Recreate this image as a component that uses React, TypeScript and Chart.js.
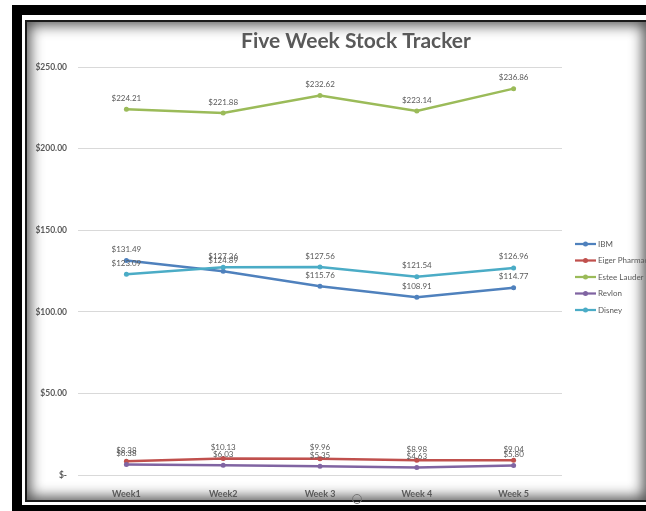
import React, { useEffect, useRef } from "react";
import { Chart, registerables } from "chart.js";

Chart.register(...registerables);

const weeks = ["Week1", "Week2", "Week 3", "Week 4", "Week 5"];
const seriesNames = ["IBM", "Eiger Pharmaceuticals", "Estee Lauder", "Revlon", "Disney"];
const seriesColors = ["#4F81BD", "#C0504D", "#9BBB59", "#8064A2", "#4BACC6"];
const ibm = [131.49, 124.89, 115.76, 108.91, 114.77];
const eiger = [8.38, 10.13, 9.96, 8.98, 9.04];
const estee = [224.21, 221.88, 232.62, 223.14, 236.86];
const revlon = [6.38, 6.03, 5.35, 4.63, 5.8];
const disney = [123.09, 127.36, 127.56, 121.54, 126.96];
const seriesValues = [ibm, eiger, estee, revlon, disney];
const yTicks = [0, 50, 100, 150, 200, 250];

const FONT = "Lato, 'Open Sans', sans-serif";
const TEXT = "#595959";

const fmt = (v: number) => (v === 0 ? "$-" : "$" + v.toFixed(2));

const labelPlugin = {
  id: "valueLabels",
  afterDatasetsDraw(chart: any) {
    const ctx = chart.ctx;
    ctx.save();
    ctx.font = `8px ${FONT}`;
    ctx.fillStyle = TEXT;
    ctx.textAlign = "center";
    ctx.textBaseline = "middle";
    chart.data.datasets.forEach((ds: any, i: number) => {
      const meta = chart.getDatasetMeta(i);
      meta.data.forEach((pt: any, j: number) => {
        ctx.fillText(fmt(ds.data[j]), pt.x, pt.y - 11);
      });
    });
    ctx.restore();
  },
};

const legendPlugin = {
  id: "sideLegend",
  afterDraw(chart: any) {
    const ctx = chart.ctx;
    const x0 = chart.chartArea.right + 13;
    const y0 = 224;
    ctx.save();
    chart.data.datasets.forEach((ds: any, i: number) => {
      const y = y0 + i * 16.5;
      ctx.strokeStyle = ds.borderColor;
      ctx.lineWidth = 2.25;
      ctx.beginPath();
      ctx.moveTo(x0, y);
      ctx.lineTo(x0 + 21, y);
      ctx.stroke();
      ctx.fillStyle = ds.borderColor;
      ctx.beginPath();
      ctx.arc(x0 + 10.5, y, 2.5, 0, Math.PI * 2);
      ctx.fill();
      ctx.fillStyle = TEXT;
      ctx.font = `8px ${FONT}`;
      ctx.textAlign = "left";
      ctx.textBaseline = "middle";
      ctx.fillText(ds.label, x0 + 23, y);
    });
    ctx.restore();
  },
};

export default function App() {
  const ref = useRef<HTMLCanvasElement | null>(null);

  useEffect(() => {
    if (!ref.current) return;
    const chart = new Chart(ref.current, {
      type: "line",
      data: {
        labels: weeks,
        datasets: seriesNames.map((name, i) => ({
          label: name,
          data: seriesValues[i],
          borderColor: seriesColors[i],
          backgroundColor: seriesColors[i],
          borderWidth: 2.5,
          pointRadius: 2.5,
          pointHoverRadius: 2.5,
          pointBorderWidth: 0,
          tension: 0,
          order: seriesNames.length - i,
        })),
      },
      options: {
        responsive: false,
        animation: false,
        layout: { padding: 0 },
        plugins: {
          legend: { display: false },
          tooltip: { enabled: false },
          title: {
            display: true,
            text: "Five Week Stock Tracker",
            color: TEXT,
            font: { family: FONT, size: 21, weight: "bold" },
            padding: { top: 9, bottom: 13 },
          },
        },
        scales: {
          x: {
            offset: true,
            grid: { display: false, offset: true },
            border: { display: false },
            ticks: {
              color: TEXT,
              font: { family: FONT, size: 9, weight: "bold" },
              padding: 6,
              maxRotation: 0,
            },
            afterFit: (s: any) => {
              s.height = 26;
            },
          },
          y: {
            min: 0,
            max: 250,
            afterBuildTicks: (s: any) => {
              s.ticks = yTicks.map((v) => ({ value: v }));
            },
            grid: { color: "#d9d9d9", lineWidth: 1, drawTicks: false },
            border: { display: false },
            ticks: {
              color: TEXT,
              font: { family: FONT, size: 8.5, weight: "bold" },
              padding: 11,
              callback: (v: any) => fmt(Number(v)),
            },
            afterFit: (s: any) => {
              s.width = 53;
            },
          },
          yR: {
            position: "right",
            display: true,
            grid: { display: false },
            border: { display: false },
            ticks: { display: false },
            afterFit: (s: any) => {
              s.width = 125;
            },
          },
        },
      } as any,
      plugins: [labelPlugin, legendPlugin],
    });
    return () => chart.destroy();
  }, []);

  return (
    <div
      style={{
        position: "fixed",
        left: 0,
        top: 0,
        width: 646,
        height: 511,
        overflow: "hidden",
        background: "#fff",
      }}
    >
      <div style={{ position: "absolute", left: 12, top: 5, width: 700, height: 600, background: "#000" }} />
      <div style={{ position: "absolute", left: 22, top: 15, width: 700, height: 490, background: "#fff" }} />
      <div
        style={{
          position: "absolute",
          left: 25,
          top: 20,
          width: 623,
          height: 482,
          boxSizing: "border-box",
          border: "2px solid #1a1a1a",
          background: "#fff",
          boxShadow: "inset 0 0 14px 3px rgba(0,0,0,0.7)",
        }}
      />
      <div
        style={{
          position: "absolute",
          left: 352,
          top: 494,
          width: 8,
          height: 8,
          border: "1.5px solid #777",
          borderRadius: "50%",
        }}
      />
      <div style={{ position: "absolute", left: 25, top: 20, width: 621, height: 481, overflow: "hidden" }}>
        <canvas ref={ref} width={662} height={481} style={{ width: 662, height: 481, display: "block" }} />
      </div>
    </div>
  );
}
